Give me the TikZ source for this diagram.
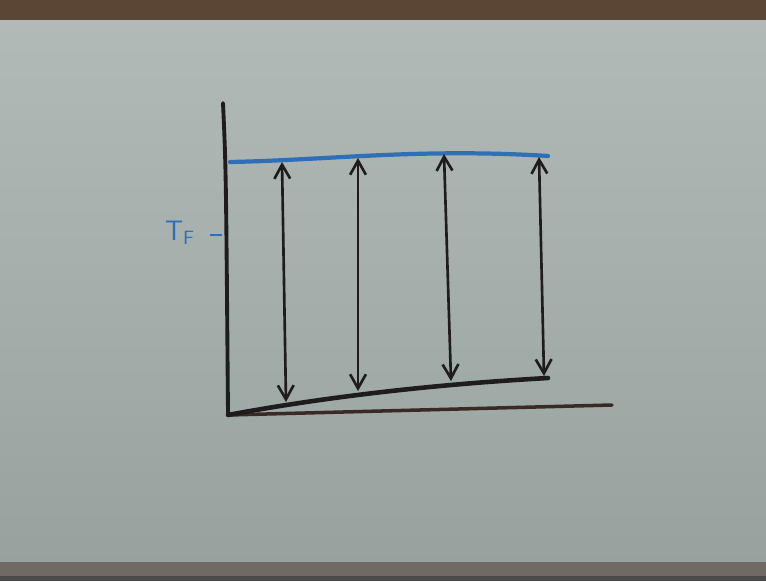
\documentclass[tikz,border=0pt]{standalone}
\usepackage{amsmath}
\usepackage{tikz}
\usetikzlibrary{arrows.meta}

\definecolor{board}{HTML}{B2BAB7}
\definecolor{boardlow}{HTML}{97A29E}
\definecolor{frametop}{HTML}{5B4636}
\definecolor{framelow}{HTML}{6F6A66}
\definecolor{pen}{HTML}{1E1C1C}
\definecolor{penblue}{HTML}{2F6FB5}
\definecolor{penbrown}{HTML}{3A2A26}

\tikzset{
  axis/.style={pen, line width=2.2pt, line cap=round},
  templine/.style={penblue, line width=2.4pt, line cap=round},
  flux/.style={pen, line width=1.5pt, {Straight Barb[length=8pt,width=9pt]}-{Straight Barb[length=8pt,width=9pt]}}
}

\begin{document}
\begin{tikzpicture}[x=0.02cm,y=-0.02cm]
\useasboundingbox (0,0) rectangle (766,581);
% board and frame
\shade[top color=board, bottom color=boardlow] (0,18) rectangle (766,565);
\fill[frametop] (0,0) rectangle (766,20);
\fill[framelow] (0,562) rectangle (766,581);
\fill[pen!80] (0,576) rectangle (766,581);
% axes
\coordinate (origin) at (228,415);
\coordinate (ytop) at (223,103);
\coordinate (xend) at (612,405);
\draw[axis] (ytop) .. controls (226,170) .. (origin);
\draw[penbrown, line width=2pt, line cap=round] (origin) -- (xend);
% upper line
\coordinate (u0) at (230,162);
\coordinate (u4) at (548,156);
\draw[templine] (u0) .. controls (330,160) and (420,148) .. (u4);
% lower line
\coordinate (l4) at (548,378);
\draw[axis, line width=2.6pt] (origin) .. controls (330,396) and (440,384) .. (l4);
% arrows between the two lines
\coordinate (a1) at (282,162);
\coordinate (b1) at (286,402);
\coordinate (a2) at (358,158);
\coordinate (b2) at (358,391);
\coordinate (a3) at (444,154);
\coordinate (b3) at (451,381);
\coordinate (a4) at (539,157);
\coordinate (b4) at (544,376);
\foreach \i in {1,...,4}
  \draw[flux] (a\i) -- (b\i);
% label
\node[penblue, font=\sffamily\fontsize{16}{18}\selectfont, inner sep=0pt] (tf) at (180,233) {T$_{\mathsf{F}}$};
\coordinate (tick) at (210,235);
\draw[penblue, line width=1.6pt] (tick) -- ++(12,0);
\end{tikzpicture}
\end{document}
